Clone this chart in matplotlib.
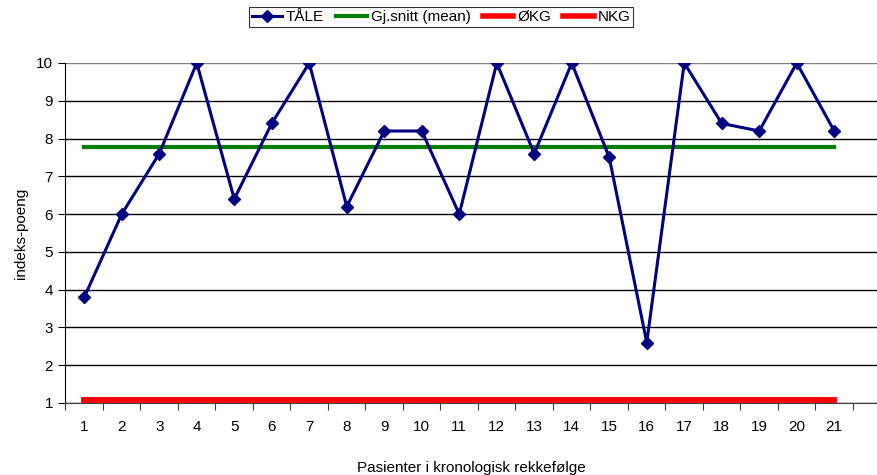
import numpy as np
import matplotlib.pyplot as plt

plt.rcParams['font.family'] = ['Liberation Sans', 'DejaVu Sans']

pasienter = list(range(1, 22))
taale = [3.8, 6, 7.6, 10, 6.4, 8.4, 10, 6.2, 8.2, 8.2, 6, 10, 7.6, 10, 7.5,
         2.6, 10, 8.4, 8.2, 10, 8.2]
okg = [1.07] * 21
nkg = [1.07] * 21
snitt = [np.mean(taale)] * 21

fig = plt.figure(figsize=(8.78, 4.75), dpi=100)
ax = fig.add_axes([65.5 / 878, 72 / 475, (878 - 65.5) / 878, 340 / 475])

ax.plot(pasienter, taale, color='#000080', lw=2.2, marker='D', ms=6.5,
        label='TÅLE', zorder=5)
ax.plot(pasienter, snitt, color='#008000', lw=3, label='Gj.snitt (mean)', zorder=4)
ax.plot(pasienter, okg, color='#ff0000', lw=4, label='ØKG', zorder=3)
ax.plot(pasienter, nkg, color='#ff0000', lw=4, label='NKG', zorder=3)

ax.set_ylim(1, 10)
ax.set_xlim(0.5, 0.5 + (878 - 65.5) / 37.5)
ax.set_yticks(range(1, 11))
ax.yaxis.grid(True, color='black', lw=1)
ax.get_ygridlines()[-1].set_color('#808080')

# category labels sit between the boundary ticks
ax.set_xticks(np.arange(0.5, 22, 1))
ax.set_xticklabels([])
ax.set_xticks(pasienter, minor=True)
ax.set_xticklabels([str(p) for p in pasienter], minor=True)
ax.tick_params(axis='x', which='minor', length=0, pad=12, labelsize=11)
ax.tick_params(axis='x', which='major', length=5, color='#404040')
ax.tick_params(axis='y', length=5, labelsize=11, pad=4)

ax.spines['top'].set_visible(False)
ax.spines['right'].set_visible(False)
ax.spines['left'].set_color('black')
ax.spines['bottom'].set_color('#404040')

ax.set_ylabel('indeks-poeng', fontsize=11, labelpad=6)
ax.set_xlabel('Pasienter i kronologisk rekkefølge', fontsize=11, labelpad=20)

leg = fig.legend(loc='upper center', bbox_to_anchor=(441 / 878, 1 - 7 / 475),
                 ncol=4, fontsize=11, frameon=True, fancybox=False,
                 edgecolor='black', handlelength=2.0, columnspacing=0.8,
                 handletextpad=0.25, borderpad=0.2, borderaxespad=0)
leg.get_frame().set_linewidth(0.8)

fig.savefig('out.png', dpi=100)
